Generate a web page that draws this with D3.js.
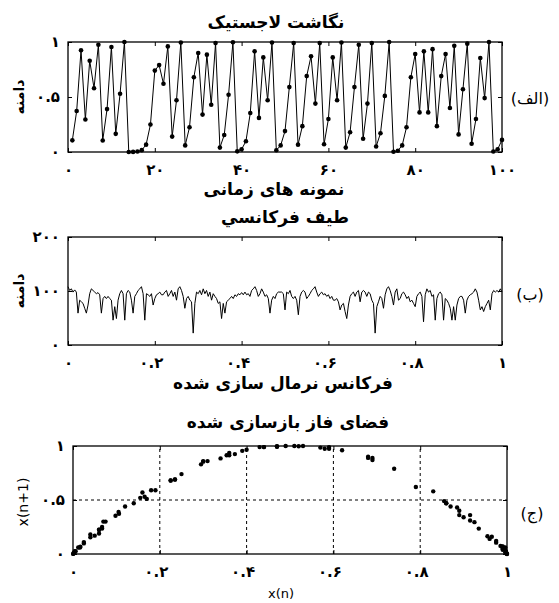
<!DOCTYPE html>
<html><head><meta charset="utf-8">
<script src="https://cdn.jsdelivr.net/npm/d3@7"></script>
<style>
body{margin:0;background:#fff;}
text{font-family:"DejaVu Sans",sans-serif;fill:#000;}
</style></head>
<body><svg id="c" width="559" height="603"></svg>
<script>
// ---- Panel (a): logistic map time series, samples 1..100 ----
const logistic = [
0.106,0.373,0.925,0.295,0.83,0.58,0.975,0.105,0.39,0.955,
0.165,0.53,1.0,0.0003,0.001,0.004,0.017,0.067,0.25,0.74,
0.79,0.62,0.96,0.14,0.47,0.996,0.06,0.225,0.68,0.9,
0.34,0.885,0.43,0.99,0.04,0.155,0.52,0.998,0.006,0.025,
0.098,0.354,0.915,0.31,0.86,0.47,0.996,0.016,0.06,0.19,
0.59,0.99,0.067,0.235,0.69,0.87,0.44,0.99,0.07,0.3,
0.86,0.47,0.996,0.04,0.18,0.59,0.975,0.12,0.44,0.99,
0.05,0.17,0.51,0.9996,0.002,0.012,0.06,0.225,0.68,0.89,
0.36,0.915,0.36,0.935,0.235,0.69,0.89,0.4,0.965,0.16,
0.57,0.985,0.075,0.3,0.855,0.49,0.9996,0.004,0.025,0.11];

// ---- Panel (b): frequency spectrum (normalised frequency 0..1) ----
const spectrum = [
108,101,104,98,102,98,59,83,80,77,68,59,74,95,104,101,98,95,97,93,
59,86,90,86,90,86,83,46,71,49,83,95,101,95,46,95,101,98,83,59,
90,95,101,104,108,95,46,95,93,90,95,74,86,93,95,98,93,93,98,101,
90,95,101,90,98,83,104,108,101,90,68,86,90,83,80,22,77,98,95,101,
93,104,95,101,90,98,83,95,90,86,77,80,49,77,59,80,83,86,90,86,
93,90,95,93,97,93,98,93,95,90,101,104,108,101,90,95,104,98,90,93,
86,59,83,90,86,95,98,98,
98,95,65,98,95,101,90,86,90,83,56,90,98,101,98,86,90,95,101,104,
108,98,90,95,98,93,95,90,93,86,90,83,83,86,80,65,74,77,62,49,
74,90,95,98,90,98,101,80,98,101,98,90,98,95,83,77,22,71,80,90,
86,68,93,104,108,101,90,74,98,104,83,86,95,98,93,86,90,80,83,77,
71,90,95,98,90,43,93,104,98,101,90,93,46,86,95,98,93,46,86,83,
77,68,46,71,46,74,86,90,90,83,59,83,90,93,95,98,104,98,83,65,
71,62,71,77,83,65,95,101,98,101,98,104,98];

// ---- Tick labels ----
const ticksA_x = [0,20,40,60,80,100];
const labelsA_x = ["۰","۲۰","۴۰","۶۰","۸۰","۱۰۰"];
const ticks01 = [0,0.5,1];
const labels01 = ["۰","۰.۵","۱"];
const ticksF = [0,0.2,0.4,0.6,0.8,1];
const labelsF = ["۰","۰.۲","۰.۴","۰.۶","۰.۸","۱"];
const ticksB_y = [0,100,200];
const labelsB_y = ["۰","۱۰۰","۲۰۰"];

const svg = d3.select("#c");
const fmt = (ticks, labels) => (d => labels[ticks.indexOf(d)]);

function frame(x, y, xt, xl, yt, yl, xdx){
  const g = svg.append("g");
  const [x0,x1] = x.range(), [y0,y1] = y.range();
  const bot = g.append("g").attr("transform",`translate(0,${y0})`)
    .call(d3.axisBottom(x).tickValues(xt).tickSize(-4).tickPadding(12).tickFormat(fmt(xt,xl)));
  g.append("g").attr("transform",`translate(0,${y1})`)
    .call(d3.axisTop(x).tickValues(xt).tickSize(-4).tickFormat(""));
  g.append("g").attr("transform",`translate(${x0},0)`)
    .call(d3.axisLeft(y).tickValues(yt).tickSize(-4).tickPadding(8).tickFormat(fmt(yt,yl)));
  g.append("g").attr("transform",`translate(${x1},0)`)
    .call(d3.axisRight(y).tickValues(yt).tickSize(-4).tickFormat(""));
  g.selectAll(".domain").remove();
  g.selectAll(".tick line").attr("stroke","#000").attr("stroke-width",1);
  g.selectAll("text").attr("font-size",15).attr("font-weight","bold").attr("font-family","DejaVu Sans");
  bot.selectAll("text").attr("dx", d => (d>0 && d<1) ? xdx : 0);
  g.append("rect").attr("x",x0).attr("y",y1).attr("width",x1-x0).attr("height",y0-y1)
    .attr("fill","none").attr("stroke","#000").attr("stroke-width",1.3);
  return g;
}
function label(txt, x, y, opts={}){
  const t = svg.append("text").attr("x",x).attr("y",y).attr("text-anchor","middle")
    .attr("font-size",opts.size||17).attr("font-weight",opts.weight||"bold").text(txt);
  if(opts.font) t.attr("font-family",opts.font);
  if(opts.rot) t.attr("transform",`rotate(-90,${x},${y})`);
  return t;
}

// ===== Panel (a) =====
const xA = d3.scaleLinear().domain([0,100]).range([68,502]);
const yA = d3.scaleLinear().domain([0,1]).range([152,42]);
const dataA = logistic.map((v,i)=>({n:i+1,v}));
svg.append("path").datum(dataA)
  .attr("d", d3.line().x(d=>xA(d.n)).y(d=>yA(d.v)))
  .attr("fill","none").attr("stroke","#000").attr("stroke-width",1);
svg.append("g").selectAll("circle").data(dataA).join("circle")
  .attr("cx",d=>xA(d.n)).attr("cy",d=>yA(d.v)).attr("r",2.3).attr("fill","#000");
frame(xA, yA, ticksA_x, labelsA_x, ticks01, labels01, 0);
label("نگاشت لاجستیک", 276, 28);
label("دامنه", 24, 97, {rot:true, size:14});
label("نمونه های زمانی", 274, 195);
label("(الف)", 530, 104, {size:16, weight:"normal"});

// ===== Panel (b) =====
const xB = d3.scaleLinear().domain([0,1]).range([68,502]);
const yB = d3.scaleLinear().domain([0,200]).range([345,237]);
const fIdx = d3.scaleLinear().domain([0, spectrum.length-1]).range([0,1]);
svg.append("path").datum(spectrum)
  .attr("d", d3.line().x((d,i)=>xB(fIdx(i))).y(d=>yB(d)))
  .attr("fill","none").attr("stroke","#000").attr("stroke-width",1);
frame(xB, yB, ticksF, labelsF, ticksB_y, labelsB_y, -4);
label("طیف فرکانسي", 285, 223);
label("دامنه", 24, 291, {rot:true, size:14});
label("فرکانس نرمال سازی شده", 283, 389);
label("(ب)", 530, 300, {size:16, weight:"normal"});

// ===== Panel (c): reconstructed phase space =====
const xC = d3.scaleLinear().domain([0,1]).range([73,507]);
const yC = d3.scaleLinear().domain([0,1]).range([554,446]);
const gridC = svg.append("g");
gridC.selectAll("line.v").data(ticksF.slice(1,-1)).join("line")
  .attr("x1",d=>xC(d)).attr("x2",d=>xC(d)).attr("y1",yC(0)).attr("y2",yC(1))
  .attr("stroke","#000").attr("stroke-width",1).attr("stroke-dasharray","3,3");
gridC.selectAll("line.h").data([0.5]).join("line")
  .attr("x1",xC(0)).attr("x2",xC(1)).attr("y1",d=>yC(d)).attr("y2",d=>yC(d))
  .attr("stroke","#000").attr("stroke-width",1).attr("stroke-dasharray","3,3");
const pairs = logistic.slice(0,-1).map((v,i)=>({x:v, y:logistic[i+1]}));
svg.append("g").selectAll("circle").data(pairs).join("circle")
  .attr("cx",d=>xC(d.x)).attr("cy",d=>yC(d.y)).attr("r",2.2).attr("fill","#000");
frame(xC, yC, ticksF, labelsF, ticks01, labels01, -4);
label("فضای فاز بازسازی شده", 288, 428);
label("x(n+1)", 28, 502, {rot:true, size:14, weight:"normal", font:"Liberation Sans"});
label("x(n)", 281, 598, {size:13, weight:"normal", font:"Liberation Sans"});
label("(ج)", 532, 519, {size:16, weight:"normal"});
</script></body></html>
